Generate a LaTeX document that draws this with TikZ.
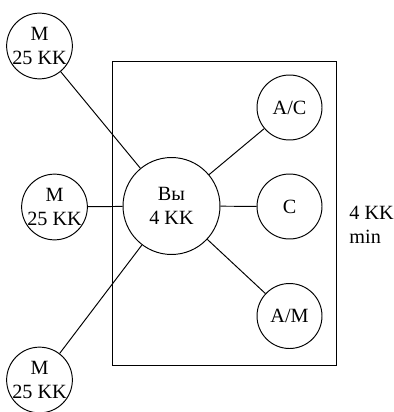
\documentclass[tikz,border=0pt]{standalone}
\usepackage{fontspec}
\setmainfont{Liberation Serif}
\tikzset{
  unit/.style={shape=circle,draw=black,line width=0.55pt,minimum size=1.3cm,inner sep=0pt,align=center,font=\fontsize{11.5}{13.5}\selectfont},
  hub/.style={unit,minimum size=1.94cm}
}
\begin{document}
\begin{tikzpicture}[x=0.02cm,y=-0.02cm,line width=0.55pt]
                \useasboundingbox (0,0) rectangle (393,412);
                \draw (112,61) rectangle (336,365);

                \node[unit] (m1) at (39.5,46) {M\\25 KK};
                \node[unit] (m2) at (54.5,207) {M\\25 KK};
                \node[unit] (m3) at (39.5,380) {M\\25 KK};
                \node[hub] (vy) at (171.5,206) {Вы\\4 KK};
                \node[unit] (ac) at (289.5,107.5) {A/C};
                \node[unit] (c) at (289.5,206.5) {C};
                \node[unit] (am) at (289.5,316) {A/M};
                \node[anchor=west,align=left,inner sep=0pt,font=\fontsize{11.5}{13.5}\selectfont] (cap) at (349,225) {4 KK\\min};

                \draw[-] (m1) edge (vy);
                \draw[-] (m2) edge (vy);
                \draw[-] (m3) edge (vy);

                \draw[-] (vy) edge (ac);
                \draw[-] (vy) edge (c);
                \draw[-] (vy) edge (am);
            \end{tikzpicture}
\end{document}
